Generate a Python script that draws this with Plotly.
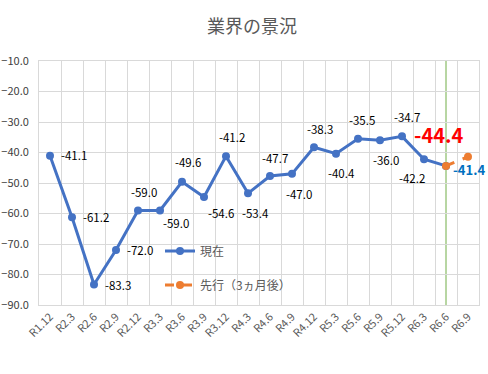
import plotly.graph_objects as go

categories = ["R1.12", "R2.3", "R2.6", "R2.9", "R2.12", "R3.3", "R3.6", "R3.9", "R3.12", "R4.3",
              "R4.6", "R4.9", "R4.12", "R5.3", "R5.6", "R5.9", "R5.12", "R6.3", "R6.6", "R6.9"]
current_values = [-41.1, -61.2, -83.3, -72.0, -59.0, -59.0, -49.6, -54.6, -41.2, -53.4,
                  -47.7, -47.0, -38.3, -40.4, -35.5, -36.0, -34.7, -42.2, -44.4]
forecast_categories = ["R6.6", "R6.9"]
forecast_values = [-44.4, -41.4]
y_ticks = [-10, -20, -30, -40, -50, -60, -70, -80, -90]

# label offsets (pixels) for the current series
label_offsets = [(24, -1), (24, 0), (24, 0), (24, 0), (6, -18), (16, 13), (6, -20), (17, 16),
                 (6, -19), (7, 20), (5, -18), (7, 20), (6, -18), (5, 19), (4, -19), (6, 20),
                 (5, -19), (-12, 19)]

BLUE = "#4472C4"
ORANGE = "#ED7D31"
GRID = "#D9D9D9"
TXT = "#595959"
FONT = "Noto Sans CJK JP"

fig = go.Figure()
fig.add_trace(go.Scatter(
    x=categories[:len(current_values)], y=current_values, mode="lines+markers", name="現在",
    line=dict(color=BLUE, width=3), marker=dict(color=BLUE, size=8), legend="legend"))
fig.add_trace(go.Scatter(
    x=forecast_categories, y=forecast_values, mode="lines+markers", name="先行（3ヵ月後）",
    line=dict(color=ORANGE, width=3, dash="dash"), marker=dict(color=ORANGE, size=8), legend="legend2"))

annotations = []
for i, v in enumerate(current_values[:-1]):
    dx, dy = label_offsets[i]
    annotations.append(dict(x=categories[i], y=v, text=f"{v:.1f}", showarrow=False,
                            xshift=dx, yshift=-dy, font=dict(family=FONT, size=11.5, color="#000000")))
# highlighted labels
annotations.append(dict(x=forecast_categories[0], y=forecast_values[0], text=f"<b>{forecast_values[0]:.1f}</b>",
                        showarrow=False, xshift=-7, yshift=31, font=dict(family=FONT, size=20, color="#FF0000")))
annotations.append(dict(x=forecast_categories[1], y=forecast_values[1], text=f"<b>{forecast_values[1]:.1f}</b>",
                        showarrow=False, xshift=1, yshift=-13, font=dict(family=FONT, size=13, color="#0070C0")))

fig.add_shape(type="line", xref="x", yref="paper", x0=forecast_categories[0], x1=forecast_categories[0],
              y0=0, y1=1, line=dict(color="#70AD47", width=1), layer="below")

fig.update_layout(
    width=488, height=374,
    margin=dict(l=39, r=9, t=61, b=69),
    paper_bgcolor="white", plot_bgcolor="white",
    font=dict(family=FONT, color=TXT),
    title=dict(text="業界の景況", x=0.484, xref="paper", xanchor="center", y=1 - 27 / 374,
               yref="container", yanchor="middle", font=dict(size=18, color=TXT, family=FONT)),
    annotations=annotations,
    legend=dict(x=0.275, y=0.221, xanchor="left", yanchor="middle", bgcolor="rgba(0,0,0,0)",
                font=dict(size=12, color=TXT, family=FONT)),
    legend2=dict(x=0.275, y=0.082, xanchor="left", yanchor="middle", bgcolor="rgba(0,0,0,0)",
                 font=dict(size=12, color=TXT, family=FONT)),
    showlegend=True,
)
fig.update_xaxes(type="category", categoryorder="array", categoryarray=categories,
                 range=[-0.5, len(categories) - 0.5], tickson="boundaries", ticks="", automargin=False,
                 showgrid=True, gridcolor=GRID, gridwidth=1, showline=True, linecolor=GRID, mirror=True,
                 tickangle=-45, tickfont=dict(size=11, color=TXT, family=FONT), zeroline=False)
fig.update_yaxes(range=[-90, -10], tickvals=y_ticks, tickformat=".1f", ticks="", automargin=False,
                 showgrid=True, gridcolor=GRID, gridwidth=1, showline=True, linecolor=GRID, mirror=True,
                 tickfont=dict(size=11, color="#404040", family=FONT), zeroline=False, ticklabelstandoff=7)

fig.write_html("out.html", config={"displayModeBar": False},
               post_script="document.body.style.margin='0';")
